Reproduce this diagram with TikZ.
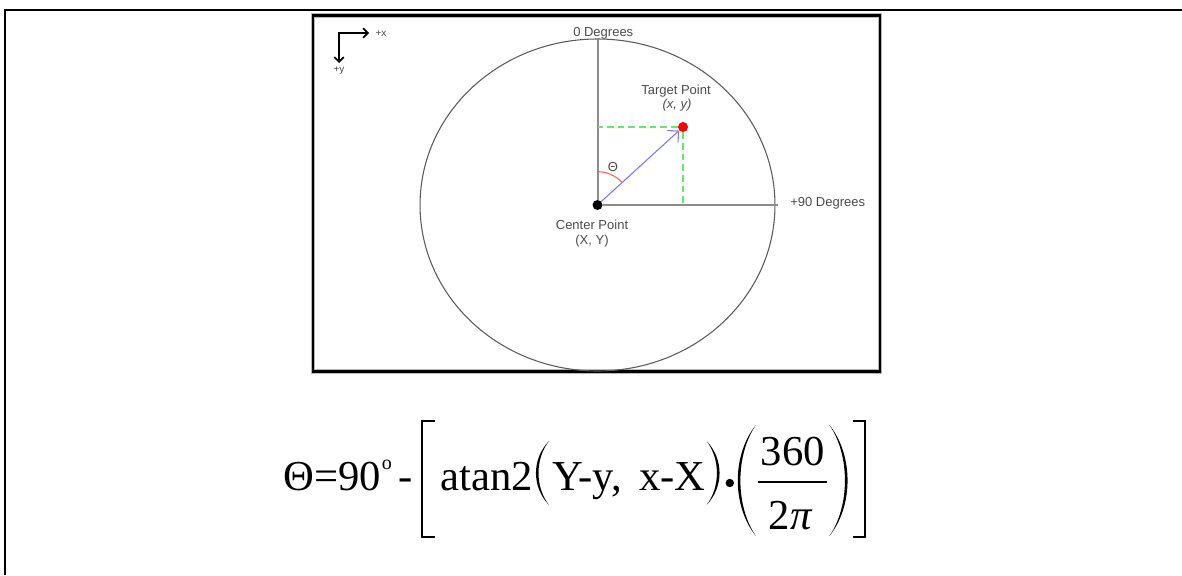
\documentclass[tikz,border=0pt]{standalone}
\usepackage{fontspec}
\setmainfont{Liberation Serif}
\newfontfamily\lsans{Liberation Sans}
\usetikzlibrary{arrows.meta}
\definecolor{labelgray}{HTML}{4A4A4A}
\definecolor{axisgray}{HTML}{8C8C8C}
\definecolor{ellgray}{HTML}{5A5A5A}
\definecolor{vecblue}{HTML}{7878FF}
\definecolor{dashgreen}{HTML}{66E866}
\definecolor{arcred}{HTML}{F06060}
\begin{document}
\begin{tikzpicture}[x=0.75pt,y=-0.75pt,
  lbl/.style={font=\lsans\fontsize{9.75}{11}\selectfont, text=labelgray, inner sep=0pt},
  smalllbl/.style={font=\lsans\fontsize{7.5}{9}\selectfont, text=labelgray, inner sep=0pt},
  eqtext/.style={font=\fontsize{32}{35}\selectfont, inner sep=0pt, anchor=base west},
  axisline/.style={draw=axisgray, line width=1.5pt},
  vecline/.style={draw=vecblue, line width=0.8pt, -{Straight Barb[length=6pt,width=12pt]}},
  dashline/.style={draw=dashgreen, line width=1.2pt, dash pattern=on 5pt off 3pt},
  iconline/.style={draw=black, line width=1.3pt, -{Straight Barb[length=3.5pt,width=7pt]}},
  delim/.style={draw=black, line width=1.4pt},
  parenfill/.style={fill=black, draw=none}
]
\useasboundingbox (0,0) rectangle (1182,575);
% outer frame (top and left)
\draw[line width=1.6pt] (5,575) -- (5,10) -- (1182,10);
% inner frame
\draw[draw=gray!55, line width=3.6pt] (313,15.5) rectangle (880,371.5);
\draw[draw=black, line width=2.2pt] (313,15.5) rectangle (880,371.5);

% points
\node[circle, fill=black, minimum size=7.5pt, inner sep=0pt] (C) at (597.5,205) {};
\node[circle, fill=red, minimum size=7.5pt, inner sep=0pt] (T) at (683,127) {};
\coordinate (vtop) at (597.5,38);
\coordinate (hend) at (778,205);

% ellipse
\draw[draw=ellgray, line width=0.8pt] (C.center) ellipse[x radius=133.1pt, y radius=124.5pt];

% axes
\draw[axisline] (C) -- (vtop);
\draw[axisline] (C) -- (hend);

% dashed projections
\draw[dashline] (T.west) -- (vtop |- T);
\draw[dashline] (T.south) -- (T |- C);

% vector
\draw[vecline] (C) -- (T);

% theta arc
\draw[draw=arcred, line width=0.8pt] ([shift={(90:25pt)}]C.center) arc[start angle=90, end angle=43, radius=25pt];
\node[lbl] (th) at (613,167) {Θ};

% labels
\node[lbl, anchor=west] (zero) at (573,33) {0 Degrees};
\node[lbl, anchor=west] (ninety) at (790,203) {+90 Degrees};
\node[lbl] (tp) at (676,91) {Target Point};
\node[lbl, font=\lsans\itshape\fontsize{9.75}{11}\selectfont] (tpxy) at (677,105) {(x, y)};
\node[lbl] (cp) at (592,225) {Center Point};
\node[lbl] (cpxy) at (592,241) {(X, Y)};

% axes icon
\coordinate (axo) at (339,33);
\coordinate (axx) at (369,33);
\coordinate (axy) at (339,63);
\draw[iconline, line cap=rect] (axo) -- (axx);
\draw[iconline] (axo) -- (axy);
\node[smalllbl] (px) at (381,34) {+x};
\node[smalllbl] (py) at (339,71) {+y};

% formula
\node[eqtext] (e1) at (283,490) {Θ=90};
\node[eqtext, font=\fontsize{15}{16}\selectfont] (e2) at (381.5,469) {o};
\node[eqtext] (e3) at (398,490) {-};
\draw[delim] (434.5,421) -- (422,421) -- (422,537) -- (434.5,537);
\node[eqtext] (e4) at (440.6,490) {atan2};
\fill[parenfill] (549,441) .. controls (531.6,459) and (531.6,487) .. (549,505)
   .. controls (535,487) and (535,459) .. (549,441) -- cycle;
\node[eqtext] (e5) at (552,490) {Y-y,};
\node[eqtext] (e8) at (639,490) {x-X};
\fill[parenfill] (706.5,441) .. controls (723.9,459) and (723.9,487) .. (706.5,505)
   .. controls (720.4,487) and (720.4,459) .. (706.5,441) -- cycle;
\node[circle, fill=black, minimum size=6.3pt, inner sep=0pt] (dot) at (729.8,483) {};
\fill[parenfill] (755.9,425) .. controls (731.7,455) and (731.7,506) .. (755.9,536)
   .. controls (735.2,506) and (735.2,455) .. (755.9,425) -- cycle;
\node[eqtext] (num) at (760.7,465) {360};
\draw[line width=1.2pt] (757.8,482) -- (827.4,482);
\node[eqtext] (den) at (768.4,529) {2\textit{π}};
\fill[parenfill] (829.4,425) .. controls (853.6,455) and (853.6,506) .. (829.4,536)
   .. controls (850.1,506) and (850.1,455) .. (829.4,425) -- cycle;
\draw[delim] (852.6,421) -- (865.1,421) -- (865.1,537) -- (852.6,537);
\end{tikzpicture}
\end{document}
